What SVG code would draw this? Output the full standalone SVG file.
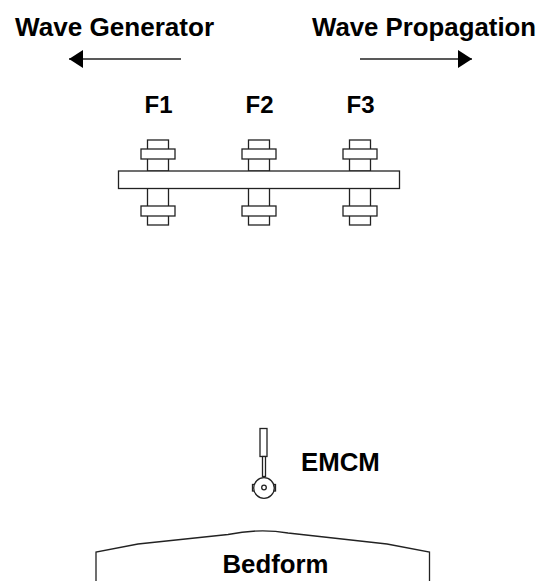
<svg xmlns="http://www.w3.org/2000/svg" width="546" height="581" viewBox="0 0 546 581">
<style>
.t{font-family:"Liberation Sans",Arial,sans-serif;font-weight:700;font-size:25.8px;fill:#000}
.f{font-size:24px}
.s{fill:#fff;stroke:#222;stroke-width:1.3}
.c{fill:none;stroke:#222;stroke-width:1.3}
</style>
<defs>
<marker id="a" markerUnits="userSpaceOnUse" markerWidth="14" markerHeight="18" refX="14" refY="9" orient="auto"><path d="M0 0L14 9L0 18Z" fill="#000"/></marker>
<g id="bolt">
<rect class="s" x="-10.500" y="-32" width="21" height="31"/>
<rect class="s" x="-17" y="-23" width="34" height="10"/>
<rect class="s" x="-10.500" y="16" width="21" height="37"/>
<rect class="s" x="-17" y="34" width="34" height="10"/>
</g>
</defs>
<g id="connectors">
<path class="c" d="M181 59H69" marker-end="url(#a)"/>
<path class="c" d="M360 59H472" marker-end="url(#a)"/>
</g>
<g id="wave-generator"><text class="t" x="15" y="36" style="font-size:26.1px">Wave Generator</text></g>
<g id="wave-propagation"><text class="t" x="312" y="36">Wave Propagation</text></g>
<g id="f1"><text class="t f" x="158.500" y="113" text-anchor="middle">F1</text></g>
<g id="f2"><text class="t f" x="259.500" y="113" text-anchor="middle">F2</text></g>
<g id="f3"><text class="t f" x="360.500" y="113" text-anchor="middle">F3</text></g>
<g id="flume">
<use href="#bolt" x="158" y="172"/>
<use href="#bolt" x="259" y="172"/>
<use href="#bolt" x="360" y="172"/>
<rect class="s" x="118.500" y="171" width="281" height="17.500"/>
</g>
<g id="emcm">
<rect class="s" x="260" y="428.500" width="7" height="28"/>
<rect class="s" x="262.500" y="456.500" width="3" height="20"/>
<rect class="s" x="252.500" y="484.500" width="3" height="6.500"/>
<rect class="s" x="272.500" y="484.500" width="3" height="6.500"/>
<circle class="s" cx="264" cy="488" r="10.300"/>
<circle class="c" cx="264" cy="487.500" r="2.300"/>
<text class="t" x="301" y="471">EMCM</text>
</g>
<g id="bedform">
<path class="c" d="M96 581V552L138 544L228 534.500C250 530 268 529.500 288 533L387 544L429.500 552V581"/>
<text class="t" x="275.500" y="573" text-anchor="middle">Bedform</text>
</g>
</svg>
